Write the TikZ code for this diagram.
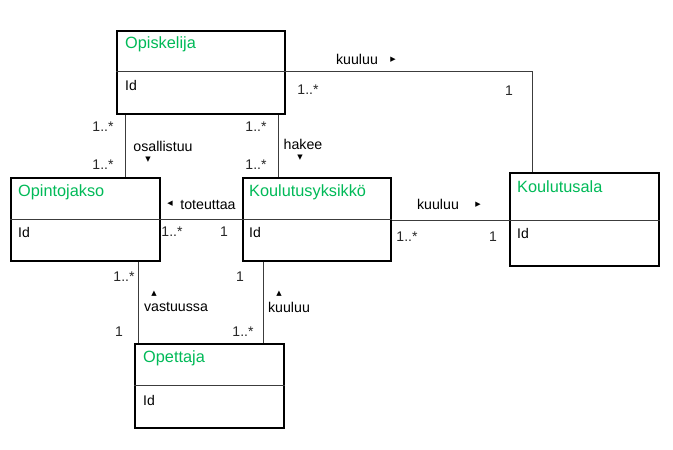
\documentclass[tikz,border=0pt]{standalone}
\usepackage{fontspec}
\setmainfont{Liberation Sans}
\newfontfamily\symfont{DejaVu Sans}
\definecolor{umlgreen}{RGB}{0,186,88}
\definecolor{linegray}{RGB}{60,60,60}
\definecolor{multgray}{RGB}{40,40,40}
\begin{document}
\begin{tikzpicture}[x=1pt,y=-1pt,
  classbox/.style={draw=black,line width=2pt,inner sep=0pt,anchor=north west},
  divider/.style={draw=linegray,line width=1pt},
  ctitle/.style={anchor=west,inner sep=0pt,text=umlgreen,font=\fontsize{16.3}{19}\selectfont},
  cattr/.style={anchor=west,inner sep=0pt,font=\fontsize{14}{17}\selectfont},
  conn/.style={draw=linegray,line width=1pt},
  lbl/.style={inner sep=0pt,font=\fontsize{14.2}{17}\selectfont},
  mult/.style={inner sep=0pt,text=multgray,font=\fontsize{14}{17}\selectfont},
  tri/.style={inner sep=0pt,font=\symfont\fontsize{7}{8}\selectfont}]
\useasboundingbox[fill=white] (0,0) rectangle (673,450);

% classes
\node[classbox,minimum width=168pt,minimum height=83pt] (opis) at (116,30) {};
\node[ctitle] (opisT) at (125,44) {Opiskelija};
\node[cattr] (opisA) at (125,85) {Id};
\coordinate (opisD) at (116,71);

\node[classbox,minimum width=149pt,minimum height=83pt] (opin) at (10,177) {};
\node[ctitle] (opinT) at (18,192) {Opintojakso};
\node[cattr] (opinA) at (18,232) {Id};
\coordinate (opinD) at (10,219);

\node[classbox,minimum width=148pt,minimum height=83pt] (kouy) at (242,177) {};
\node[ctitle] (kouyT) at (249,192) {Koulutusyksikkö};
\node[cattr] (kouyA) at (249,232) {Id};
\coordinate (kouyD) at (242,219);

\node[classbox,minimum width=149pt,minimum height=93pt] (kala) at (509,172) {};
\node[ctitle] (kalaT) at (517,187) {Koulutusala};
\node[cattr] (kalaA) at (517,233) {Id};
\coordinate (kalaD) at (509,220);

\node[classbox,minimum width=149pt,minimum height=84pt] (opet) at (134,343) {};
\node[ctitle] (opetT) at (143,358) {Opettaja};
\node[cattr] (opetA) at (143,400) {Id};
\coordinate (opetD) at (134,385);

\foreach \b in {opis,opin,kouy,kala,opet}{
  \draw[divider] (\b D) -- (\b.east |- \b D);
}

% x positions of vertical connectors
\coordinate (xOsa) at (125,0);
\coordinate (xHak) at (278,0);
\coordinate (xVas) at (138,0);
\coordinate (xKuB) at (263,0);
\coordinate (bend) at (532,71);

% connectors
\draw[conn] (opis.south -| xOsa) -- (opin.north -| xOsa);
\draw[conn] (opis.south -| xHak) -- (kouy.north -| xHak);
\draw[conn] (opis.east |- bend) -- (bend) -- (kala.north -| bend);
\draw[conn] (kouy.east |- kalaD) -- (kala.west |- kalaD);
\draw[conn] (kouy.west |- kouyD) -- (opin.east |- kouyD);
\draw[conn] (opin.south -| xVas) -- (opet.north -| xVas);
\draw[conn] (kouy.south -| xKuB) -- (opet.north -| xKuB);

% osallistuu
\node[mult] (m1) at (103,127) {1..*};
\node[mult] (m2) at (103,165) {1..*};
\node[lbl] (l1) at (163,146) {osallistuu};
\node[tri] (t1) at (148,160) {▼};
% hakee
\node[mult] (m3) at (256,127) {1..*};
\node[mult] (m4) at (256,165) {1..*};
\node[lbl] (l2) at (303,144) {hakee};
\node[tri] (t2) at (300,158) {▼};
% kuuluu top
\node[lbl] (l3) at (357,59) {kuuluu};
\node[tri] (t3) at (393,60) {▶};
\node[mult] (m5) at (308,90) {1..*};
\node[mult] (m6) at (509,91) {1};
% kuuluu middle
\node[lbl] (l4) at (438,204) {kuuluu};
\node[tri] (t4) at (478,205) {▶};
\node[mult] (m7) at (407,237) {1..*};
\node[mult] (m8) at (493,237) {1};
% toteuttaa
\node[tri] (t5) at (170,204) {◀};
\node[lbl] (l5) at (208,205) {toteuttaa};
\node[mult] (m9) at (172,232) {1..*};
\node[mult] (m10) at (224,232) {1};
% vastuussa
\node[mult] (m11) at (124,277) {1..*};
\node[mult] (m12) at (119,332) {1};
\node[tri] (t6) at (154,294) {▲};
\node[lbl] (l6) at (176,307) {vastuussa};
% kuuluu bottom
\node[mult] (m13) at (240,277) {1};
\node[mult] (m14) at (243,332) {1..*};
\node[tri] (t7) at (279,294) {▲};
\node[lbl] (l7) at (289,307) {kuuluu};
\end{tikzpicture}
\end{document}
